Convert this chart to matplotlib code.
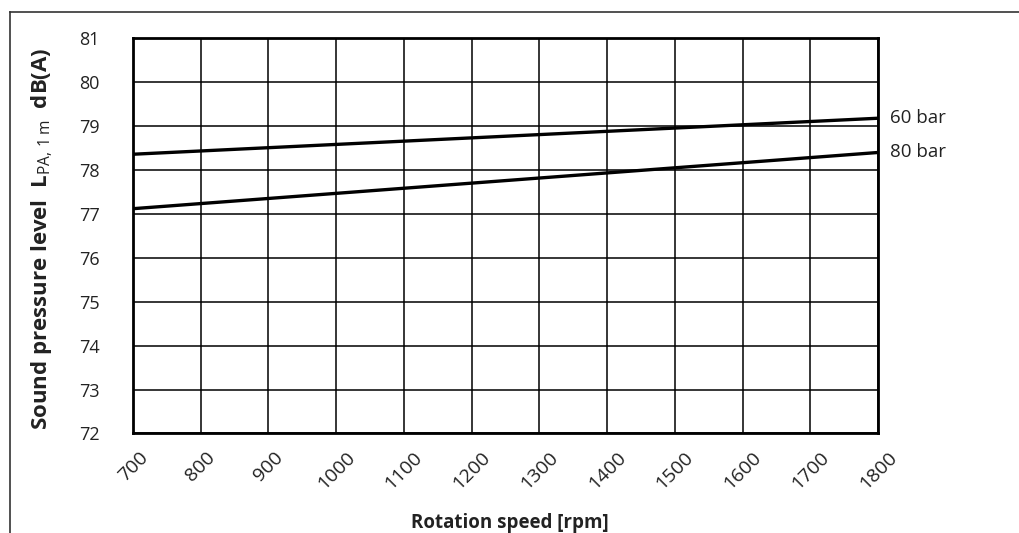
import matplotlib.pyplot as plt
from matplotlib.lines import Line2D

plt.rcParams['font.family'] = ['Open Sans', 'DejaVu Sans']
plt.rcParams['mathtext.fontset'] = 'custom'
plt.rcParams['mathtext.rm'] = 'Open Sans'
plt.rcParams['mathtext.bf'] = 'Open Sans:bold'

# data
speed = [700, 1800]
bar60 = [78.36, 79.18]
bar80 = [77.12, 78.40]
x_ticks = [700, 800, 900, 1000, 1100, 1200, 1300, 1400, 1500, 1600, 1700, 1800]
y_ticks = [72, 73, 74, 75, 76, 77, 78, 79, 80, 81]

fig = plt.figure(figsize=(10.2, 5.33), dpi=100)
ax = fig.add_axes([0.1304, 0.1867, 0.7304, 0.7414])

ax.plot(speed, bar60, color='black', lw=2.4, solid_capstyle='butt')
ax.plot(speed, bar80, color='black', lw=2.4, solid_capstyle='butt')

ax.set_xlim(700, 1800)
ax.set_ylim(72, 81)
ax.set_xticks(x_ticks)
ax.set_yticks(y_ticks)
ax.set_xticklabels([str(v) for v in x_ticks], rotation=45, fontsize=14, color='#222222')
ax.set_yticklabels([str(v) for v in y_ticks], fontsize=13, color='#222222')
ax.tick_params(length=0)
ax.tick_params(axis='y', pad=24)
ax.tick_params(axis='x', pad=11)
ax.grid(True, color='black', lw=1.1)
for s in ax.spines.values():
    s.set_linewidth(2.0)

ax.text(1817, bar60[-1], '60 bar', fontsize=13.5, va='center', ha='left', color='#222222')
ax.text(1817, bar80[-1], '80 bar', fontsize=13.5, va='center', ha='left', color='#222222')

fig.text(0.5, 0.0, 'Rotation speed [rpm]', fontsize=13.5, fontweight='bold',
         ha='center', va='bottom', color='#222222')
fig.text(0.041, 0.552, r'Sound pressure level  $\mathbf{L}_{\mathrm{PA,\,1\,m}}$  dB(A)',
         fontsize=16, fontweight='bold', rotation=90, ha='center', va='center',
         color='#222222')

# outer frame (top and left edges visible in the crop)
fig.add_artist(Line2D([0.0098, 1.0], [0.9775, 0.9775], transform=fig.transFigure,
                      color='#333333', lw=1.2))
fig.add_artist(Line2D([0.0098, 0.0098], [0.0, 0.9775], transform=fig.transFigure,
                      color='#333333', lw=1.2))

fig.savefig('out.png', dpi=100)
